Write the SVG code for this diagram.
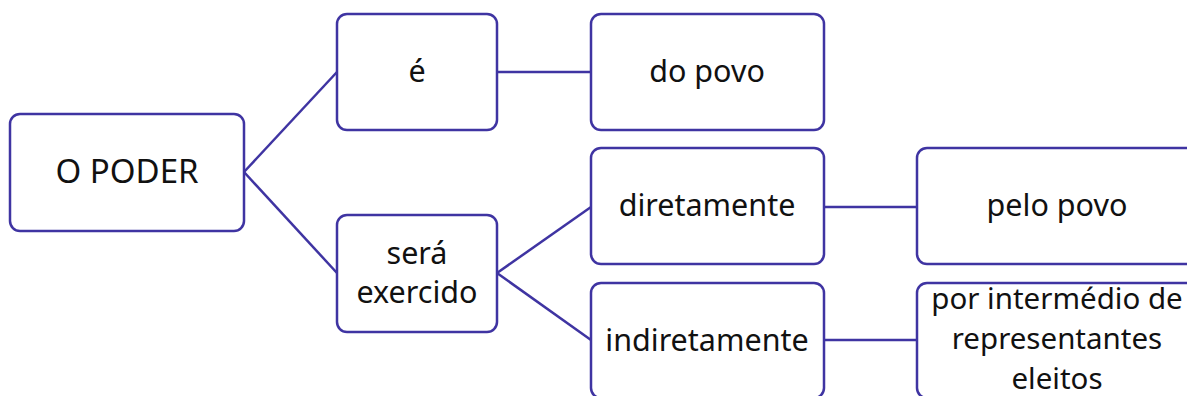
<svg xmlns="http://www.w3.org/2000/svg" width="1187" height="396" viewBox="0 0 1187 396">
<style>
.box{fill:#fff;stroke:#3f34a2;stroke-width:2.5}
.c{fill:none;stroke:#3f34a2;stroke-width:2.5}
text{font-family:"Noto Sans","Open Sans",sans-serif;font-size:30.5px;fill:#111;text-anchor:middle}
.s{font-size:29.5px}
</style>
<rect width="1187" height="396" fill="#fff"/>
<g id="connectors">
<line class="c" x1="244" y1="172" x2="337" y2="72"/>
<line class="c" x1="244" y1="172" x2="337" y2="273"/>
<line class="c" x1="497" y1="72" x2="591" y2="72"/>
<line class="c" x1="497" y1="273" x2="591" y2="207"/>
<line class="c" x1="497" y1="273" x2="591" y2="340"/>
<line class="c" x1="824" y1="207" x2="917" y2="207"/>
<line class="c" x1="824" y1="340" x2="917" y2="340"/>
</g>
<g id="n-poder">
<rect class="box" x="10" y="114" width="234" height="117" rx="10"/>
<text x="127" y="183" style="font-size:33px">O PODER</text>
</g>
<g id="n-e">
<rect class="box" x="337" y="14" width="160" height="116" rx="10"/>
<text x="417" y="82">é</text>
</g>
<g id="n-dopovo">
<rect class="box" x="591" y="14" width="233" height="116" rx="10"/>
<text x="707" y="82">do povo</text>
</g>
<g id="n-sera">
<rect class="box" x="337" y="215" width="160" height="117" rx="10"/>
<text x="417" y="264">será</text>
<text x="417" y="303">exercido</text>
</g>
<g id="n-diretamente">
<rect class="box" x="591" y="148" width="233" height="116" rx="10"/>
<text x="707" y="216">diretamente</text>
</g>
<g id="n-indiretamente">
<rect class="box" x="591" y="283" width="233" height="115" rx="10"/>
<text x="707" y="351">indiretamente</text>
</g>
<g id="n-pelopovo">
<rect class="box" x="917" y="148" width="280" height="116" rx="10"/>
<text x="1057" y="216">pelo povo</text>
</g>
<g id="n-representantes">
<rect class="box" x="917" y="283" width="280" height="115" rx="10"/>
<text class="s" x="1057" y="309">por intermédio de</text>
<text class="s" x="1057" y="349">representantes</text>
<text class="s" x="1057" y="389">eleitos</text>
</g>
</svg>
